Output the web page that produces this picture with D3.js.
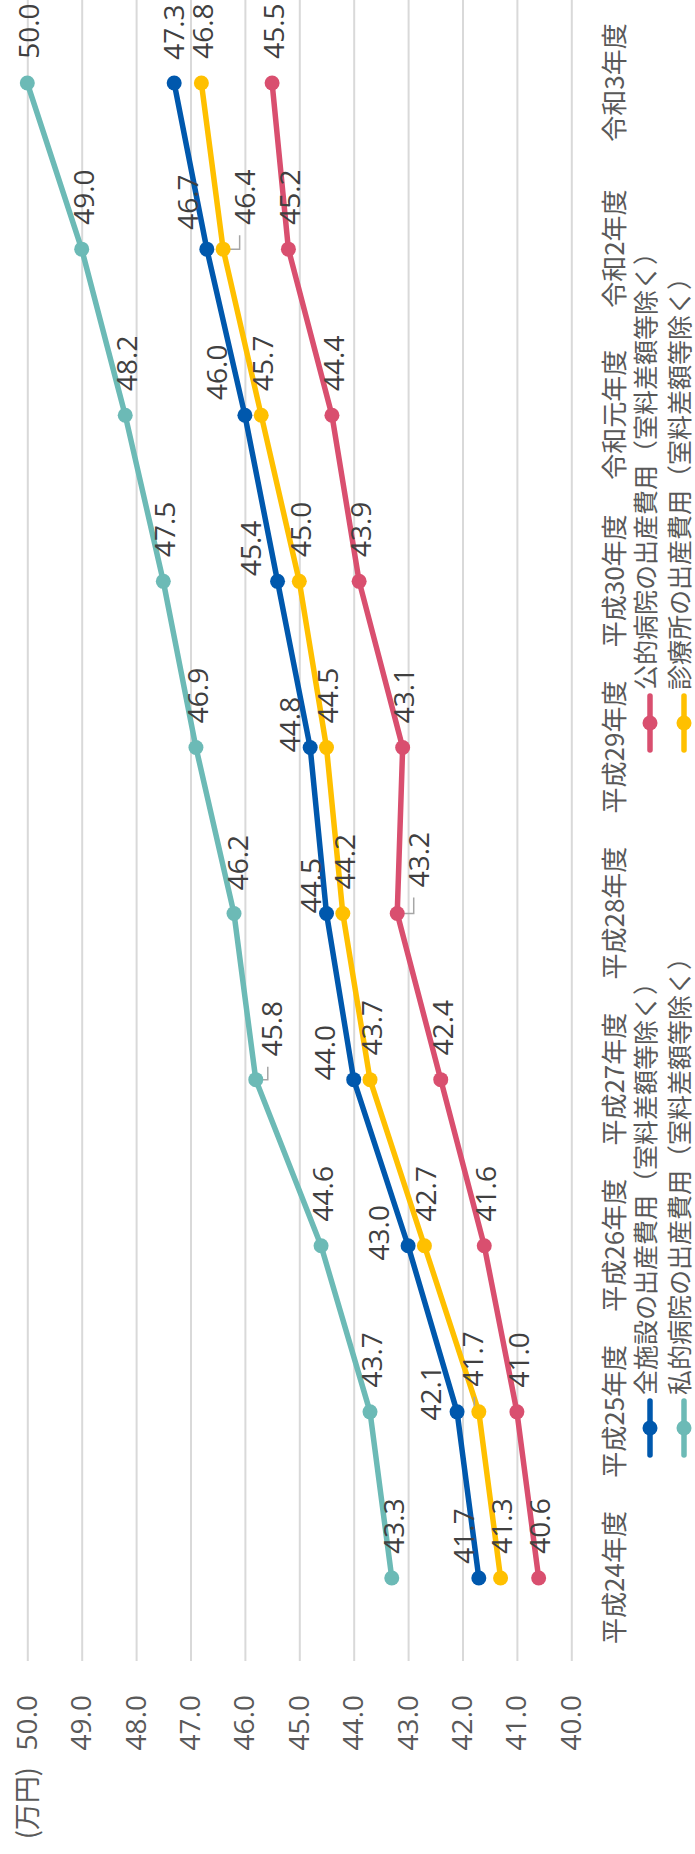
<!DOCTYPE html>
<html>
<head>
<meta charset="utf-8">
<script src="https://cdn.jsdelivr.net/npm/d3@7"></script>
<style>
  body { margin: 0; background: #fff; }
  svg { display: block; }
  .num { font-family: "Open Sans", "Noto Sans", sans-serif; }
  .jp { font-family: "Noto Sans CJK JP", "Noto Sans", sans-serif; }
</style>
</head>
<body>
<div id="chart"></div>
<script>
// data
var categories = ["平成24年度", "平成25年度", "平成26年度", "平成27年度", "平成28年度",
  "平成29年度", "平成30年度", "令和元年度", "令和2年度", "令和3年度"];
var seriesNames = [
  "全施設の出産費用（室料差額等除く）",
  "公的病院の出産費用（室料差額等除く）",
  "私的病院の出産費用（室料差額等除く）",
  "診療所の出産費用（室料差額等除く）"
];
var allFacilities = [41.7, 42.1, 43.0, 44.0, 44.5, 44.8, 45.4, 46.0, 46.7, 47.3];
var publicHospitals = [40.6, 41.0, 41.6, 42.4, 43.2, 43.1, 43.9, 44.4, 45.2, 45.5];
var privateHospitals = [43.3, 43.7, 44.6, 45.8, 46.2, 46.9, 47.5, 48.2, 49.0, 50.0];
var clinics = [41.3, 41.7, 42.7, 43.7, 44.2, 44.5, 45.0, 45.7, 46.4, 46.8];
var tickValues = [40, 41, 42, 43, 44, 45, 46, 47, 48, 49, 50];

var colors = ["#0058ad", "#d94f6f", "#6cbab6", "#ffc000"];
var seriesValues = [allFacilities, publicHospitals, privateHospitals, clinics];

// label layout: [dx, dy] from the point, plus which labels get a leader line
var defaultOffset = [52, 2];
var labelOffsets = {
  0: [[42, -15], [19, -26], [13, -29], [27, -29], [28, -15], [23, -20], [33, -26], [43, -28], [47, -19], [51, 0]],
  1: { 4: [54, 22] },
  2: { 3: [51, 16], 4: [51, 4] },
  3: { 1: [53, -6], 8: [52, 22] }
};
var leaders = { 1: [4], 2: [3], 3: [1, 8] };

// the chart is drawn landscape and then turned a quarter turn
var svgWidth = 695;
var svgHeight = 1854;

var plot = { left: 193, right: 1854, top: 27.3, bottom: 571.3 };

var svg = d3.select("#chart")
  .append("svg")
  .attr("width", svgWidth)
  .attr("height", svgHeight);

var g = svg.append("g")
  .attr("transform", `translate(0, ${svgHeight}) rotate(-90)`);

var xScale = d3.scalePoint()
  .domain(categories)
  .range([plot.left, plot.right])
  .padding(0.5);

var yScale = d3.scaleLinear()
  .domain([40, 50])
  .range([plot.bottom, plot.top]);

// gridlines + value ticks
var yAxis = d3.axisLeft(yScale)
  .tickValues(tickValues)
  .tickFormat(d3.format(".1f"))
  .tickSize(-(plot.right - plot.left))
  .tickPadding(34);

var yAxisG = g.append("g")
  .attr("transform", `translate(${plot.left}, 0)`)
  .call(yAxis);

yAxisG.select(".domain").remove();
yAxisG.selectAll(".tick line")
  .attr("stroke", "#d9d9d9")
  .attr("stroke-width", 2);
yAxisG.selectAll(".tick text")
  .attr("class", "num")
  .style("font-size", "28px")
  .attr("fill", "#595959");

// unit label
g.append("text")
  .attr("class", "jp")
  .attr("x", 87)
  .attr("y", yScale(50))
  .attr("dy", "0.35em")
  .attr("text-anchor", "end")
  .style("font-size", "27px")
  .attr("fill", "#595959")
  .text("(万円)");

// category labels
var xAxis = d3.axisBottom(xScale).tickSize(0).tickPadding(0);
var xAxisG = g.append("g")
  .attr("transform", "translate(0, 615)")
  .call(xAxis);
xAxisG.select(".domain").remove();
xAxisG.selectAll(".tick text")
  .attr("class", "jp")
  .attr("y", 0)
  .attr("dy", "0.35em")
  .style("font-size", "26px")
  .attr("fill", "#595959");

// lines
var line = d3.line()
  .x((d, i) => xScale(categories[i]))
  .y(d => yScale(d));

function offsetFor(s, i) {
  var o = labelOffsets[s];
  if (Array.isArray(o)) return o[i];
  if (o && o[i]) return o[i];
  return defaultOffset;
}

seriesValues.forEach(function(values, s) {
  g.append("path")
    .datum(values)
    .attr("fill", "none")
    .attr("stroke", colors[s])
    .attr("stroke-width", 5.5)
    .attr("stroke-linejoin", "round")
    .attr("d", line);
});

// leader lines
seriesValues.forEach(function(values, s) {
  (leaders[s] || []).forEach(function(i) {
    var px = xScale(categories[i]);
    var py = yScale(values[i]);
    var o = offsetFor(s, i);
    g.append("path")
      .attr("fill", "none")
      .attr("stroke", "#a6a6a6")
      .attr("stroke-width", 1.5)
      .attr("d", `M${px},${py} V${py + o[1] * 0.75} H${px + o[0] - 38}`);
  });
});

// markers
seriesValues.forEach(function(values, s) {
  g.selectAll(null)
    .data(values)
    .enter()
    .append("circle")
    .attr("cx", (d, i) => xScale(categories[i]))
    .attr("cy", d => yScale(d))
    .attr("r", 7.5)
    .attr("fill", colors[s]);
});

// data labels
seriesValues.forEach(function(values, s) {
  g.selectAll(null)
    .data(values)
    .enter()
    .append("text")
    .attr("class", "num")
    .attr("x", (d, i) => xScale(categories[i]) + offsetFor(s, i)[0])
    .attr("y", (d, i) => yScale(d) + offsetFor(s, i)[1])
    .attr("dy", "0.35em")
    .attr("text-anchor", "middle")
    .style("font-size", "28px")
    .attr("fill", "#404040")
    .text(d => d.toFixed(1));
});

// legend, 2 x 2
var legendPos = [[426, 650], [1131, 650], [426, 684], [1131, 684]];
seriesNames.forEach(function(name, s) {
  var lx = legendPos[s][0];
  var ly = legendPos[s][1];
  var lg = g.append("g").attr("transform", `translate(${lx}, ${ly})`);
  lg.append("line")
    .attr("x1", -27).attr("x2", 27)
    .attr("stroke", colors[s])
    .attr("stroke-width", 5.5)
    .attr("stroke-linecap", "round");
  lg.append("circle")
    .attr("r", 7.5)
    .attr("fill", colors[s]);
  lg.append("text")
    .attr("class", "jp")
    .attr("x", 33)
    .attr("y", -4)
    .attr("dy", "0.35em")
    .style("font-size", "25px")
    .attr("fill", "#595959")
    .text(name);
});
</script>
</body>
</html>
